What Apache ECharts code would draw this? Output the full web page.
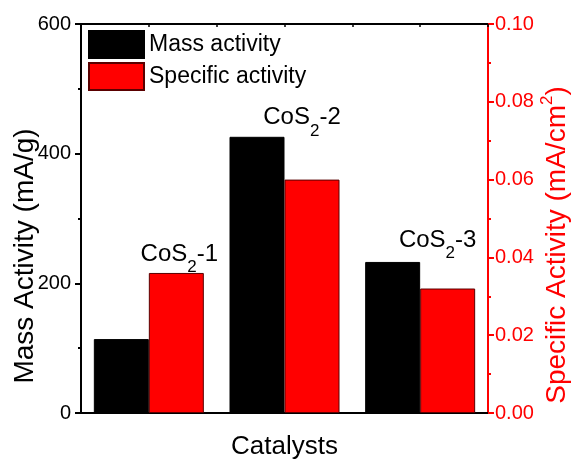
<!DOCTYPE html>
<html><head><meta charset="utf-8">
<script src="https://cdn.jsdelivr.net/npm/echarts@6/dist/echarts.min.js"></script>
<style>html,body{margin:0;padding:0;background:#fff}#c{width:576px;height:459px}</style>
</head><body><div id="c"></div>
<script>
const categories = ['CoS2-1', 'CoS2-2', 'CoS2-3'];
const labelNums = ['1', '2', '3'];
const massActivity = [114, 426, 233];
const specificActivity = [0.036, 0.060, 0.032];
const leftTicks = {min: 0, max: 600, interval: 200};
const rightTicks = {min: 0, max: 0.1, interval: 0.02};

const FONT = '"Liberation Sans", Arial, sans-serif';
const labelDx = [3, -10, -10];
const labelGap = [12, 12, 15];
const chart = echarts.init(document.getElementById('c'));
const option = {
  animation: false,
  textStyle: {fontFamily: FONT},
  grid: {left: 81, right: 88, top: 24, bottom: 46, containLabel: false, outerBoundsMode: 'none'},
  legend: {
    orient: 'vertical', left: 83, top: 25, itemWidth: 55, itemHeight: 27, itemGap: 3,
    icon: 'rect',
    textStyle: {fontSize: 23, color: '#000', fontFamily: FONT},
    data: ['Mass activity', 'Specific activity']
  },
  xAxis: [{
    type: 'category', data: categories, position: 'bottom',
    name: 'Catalysts', nameLocation: 'middle', nameGap: 21, nameMoveOverlap: false,
    nameTextStyle: {fontSize: 26, color: '#000', fontFamily: FONT},
    axisLine: {onZero: false, lineStyle: {color: '#000', width: 2}},
    axisTick: {show: false}, axisLabel: {show: false}
  }, {
    type: 'value', position: 'top', min: -0.5, max: 2.5, interval: 0.5,
    axisLine: {show: true, onZero: false, lineStyle: {color: '#000', width: 2}},
    axisTick: {show: true, inside: true, length: 3, lineStyle: {color: '#000', width: 1.5}},
    axisLabel: {show: false}, splitLine: {show: false}
  }],
  yAxis: [{
    type: 'value', position: 'left', min: leftTicks.min, max: leftTicks.max, interval: leftTicks.interval,
    name: 'Mass Activity (mA/g)', nameLocation: 'middle', nameGap: 42, nameRotate: 90, nameMoveOverlap: false,
    nameTextStyle: {fontSize: 28, color: '#000', fontFamily: FONT, padding: [0, 75, 0, 0]},
    axisLine: {show: true, onZero: false, lineStyle: {color: '#000', width: 2}},
    axisTick: {show: true, length: 6, lineStyle: {color: '#000', width: 2}},
    minorTick: {show: true, splitNumber: 2, length: 3, lineStyle: {color: '#000', width: 2}},
    axisLabel: {fontSize: 20, color: '#000', margin: 10, fontFamily: FONT},
    splitLine: {show: false}
  }, {
    type: 'value', position: 'right', min: rightTicks.min, max: rightTicks.max, interval: rightTicks.interval,
    name: '{a|Specific Activity (mA/cm}{s|2}{a|)}', nameLocation: 'middle', nameGap: 51, nameRotate: 90, nameMoveOverlap: false,
    nameTextStyle: {color: '#f00', fontFamily: FONT, padding: [0, 53, 0, 0],
      rich: {a: {fontSize: 28, color: '#f00', fontFamily: FONT, verticalAlign: 'bottom', lineHeight: 32},
             s: {fontSize: 17, color: '#f00', fontFamily: FONT, verticalAlign: 'top', lineHeight: 32}}},
    axisLine: {show: true, onZero: false, lineStyle: {color: '#f00', width: 2}},
    axisTick: {show: true, length: 6, lineStyle: {color: '#f00', width: 2}},
    minorTick: {show: true, splitNumber: 2, length: 3, lineStyle: {color: '#f00', width: 2}},
    axisLabel: {fontSize: 20, color: '#f00', margin: 7, fontFamily: FONT, formatter: v => v.toFixed(2)},
    splitLine: {show: false}
  }],
  series: [{
    name: 'Mass activity', type: 'bar', xAxisIndex: 0, yAxisIndex: 0, data: massActivity,
    barWidth: 55, barGap: '0%',
    itemStyle: {color: '#000', borderColor: '#000', borderWidth: 1}
  }, {
    name: 'Specific activity', type: 'bar', xAxisIndex: 0, yAxisIndex: 1, data: specificActivity,
    barWidth: 55, barGap: '0%',
    itemStyle: {color: '#f00', borderColor: '#5a0000', borderWidth: 1}
  }]
};
chart.setOption(option);

const graphics = categories.map((c, i) => {
  const pm = chart.convertToPixel({xAxisIndex: 0, yAxisIndex: 0}, [i, massActivity[i]]);
  const ps = chart.convertToPixel({xAxisIndex: 0, yAxisIndex: 1}, [i, specificActivity[i]]);
  const top = Math.min(pm[1], ps[1]);
  return {
    type: 'text', x: pm[0] + 27.5 + labelDx[i], y: top - labelGap[i] - 19,
    style: {
      text: '{a|CoS}{s|2}{a|-' + labelNums[i] + '}',
      align: 'center', verticalAlign: 'top',
      rich: {a: {fontSize: 24, fill: '#000', fontFamily: FONT, verticalAlign: 'top', lineHeight: 24},
             s: {fontSize: 17, fill: '#000', fontFamily: FONT, verticalAlign: 'bottom', lineHeight: 34}}
    }
  };
});
chart.setOption({graphic: graphics});
</script></body></html>
